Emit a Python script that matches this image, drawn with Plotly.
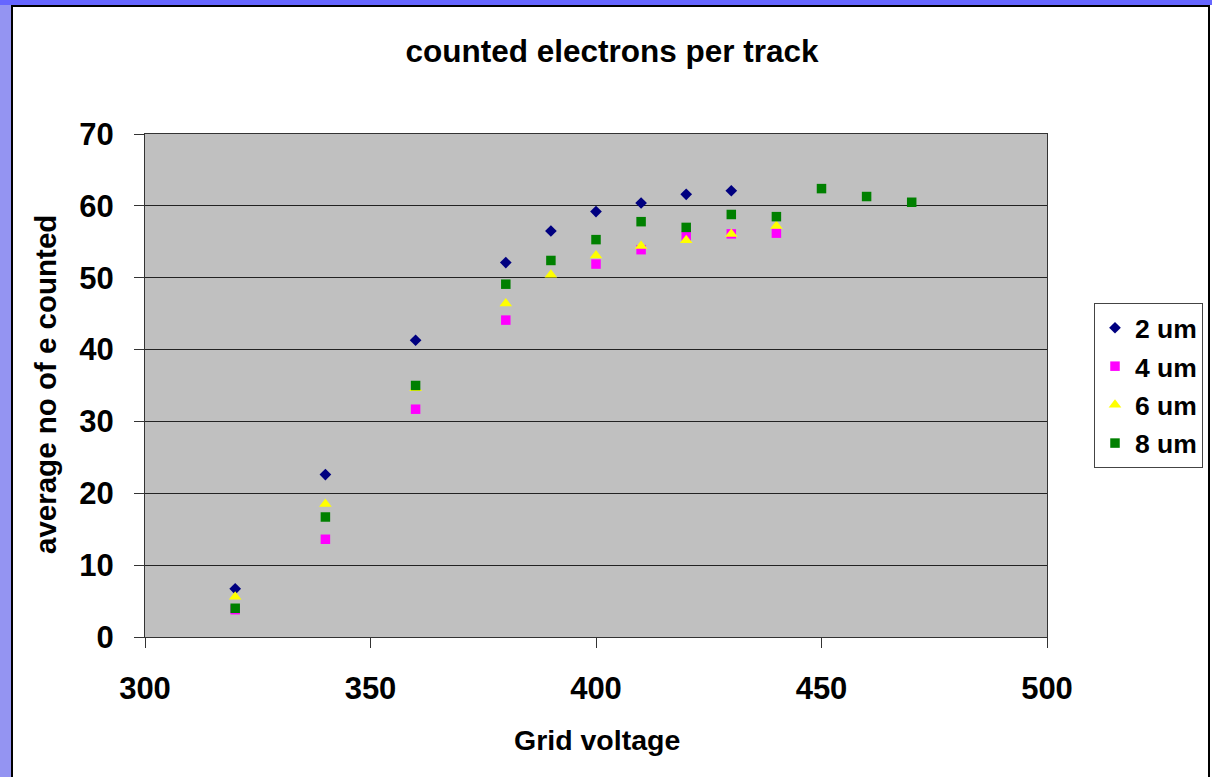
import plotly.graph_objects as go

# ---- data ----
x_2um = [320, 340, 360, 380, 390, 400, 410, 420, 430]
y_2um = [6.7, 22.6, 41.3, 52.1, 56.5, 59.2, 60.4, 61.6, 62.1]

x_4um = [320, 340, 360, 380, 400, 410, 420, 430, 440]
y_4um = [3.8, 13.6, 31.7, 44.1, 51.9, 53.9, 55.8, 56.1, 56.2]

x_6um = [320, 340, 360, 380, 390, 400, 410, 420, 430, 440]
y_6um = [5.6, 18.5, 34.6, 46.4, 50.4, 53.1, 54.4, 55.2, 56.1, 57.2]

x_8um = [320, 340, 360, 380, 390, 400, 410, 420, 430, 440, 450, 460, 470]
y_8um = [4.0, 16.7, 35.0, 49.1, 52.4, 55.3, 57.8, 57.0, 58.8, 58.5, 62.4, 61.3, 60.5]

series_names = ["2 um", "4 um", "6 um", "8 um"]
x_ticks = [300, 350, 400, 450, 500]
y_ticks = [0, 10, 20, 30, 40, 50, 60, 70]

title_text = "counted electrons per track"
x_title = "Grid voltage"
y_title = "average no of e counted"

FONT = "Liberation Sans, Arial, Helvetica, sans-serif"

W, H = 1212, 777
L, R, T, B = 145, 165, 134, 140
PW, PH = W - L - R, H - T - B


def px(xp):
    return (xp - L) / PW


def py(yp):
    return (H - B - yp) / PH


fig = go.Figure()

styles = [
    dict(symbol="diamond", color="#000080", size=9),
    dict(symbol="square", color="#ff00ff", size=9.5),
    dict(symbol="triangle-up", color="#ffff00", size=11),
    dict(symbol="square", color="#008000", size=9.5),
]
data = [(x_2um, y_2um), (x_4um, y_4um), (x_6um, y_6um), (x_8um, y_8um)]

for name, (xs, ys), st in zip(series_names, data, styles):
    fig.add_trace(go.Scatter(
        x=xs, y=ys, mode="markers", name=name, legendgroup=name,
        marker=dict(symbol=st["symbol"], color=st["color"], size=st["size"],
                    line=dict(width=0)),
    ))

shapes = [
    # top blue bar
    dict(type="rect", xref="paper", yref="paper",
         x0=px(0), x1=px(W), y0=py(5), y1=py(0),
         fillcolor="#6666ff", line=dict(width=0), layer="below"),
    # left patterned strip
    dict(type="rect", xref="paper", yref="paper",
         x0=px(0), x1=px(11), y0=py(H), y1=py(5),
         fillcolor="#9494f2", line=dict(width=0), layer="below"),
    # frame lines
    dict(type="line", xref="paper", yref="paper",
         x0=px(12), x1=px(12), y0=py(H), y1=py(5),
         line=dict(color="#000000", width=2)),
    dict(type="line", xref="paper", yref="paper",
         x0=px(11), x1=px(1210), y0=py(6), y1=py(6),
         line=dict(color="#000000", width=2)),
    dict(type="line", xref="paper", yref="paper",
         x0=px(1209), x1=px(1209), y0=py(H), y1=py(5),
         line=dict(color="#000000", width=2)),
]

annotations = [
    dict(text=x_title, xref="paper", yref="paper", x=px(597), y=py(740),
         xanchor="center", yanchor="middle", showarrow=False,
         font=dict(family=FONT, size=28.5, color="black", weight="bold")),
    dict(text=y_title, xref="paper", yref="paper", x=px(45), y=py(385),
         xanchor="center", yanchor="middle", showarrow=False, textangle=-90,
         font=dict(family=FONT, size=29.5, color="black", weight="bold")),
]

fig.update_layout(
    width=W, height=H,
    margin=dict(l=L, r=R, t=T, b=B, pad=0, autoexpand=False),
    paper_bgcolor="white",
    plot_bgcolor="#c0c0c0",
    title=dict(text=title_text, x=612 / W, xref="container", xanchor="center",
               y=1 - 51 / H, yref="container", yanchor="middle",
               font=dict(family=FONT, size=31.5, color="black", weight="bold")),
    xaxis=dict(range=[300, 500], tickvals=x_ticks, showgrid=False,
               zeroline=False, showline=True, linecolor="#333333", linewidth=1,
               mirror=True, ticks="outside", ticklen=10, tickcolor="#333333",
               ticklabelstandoff=14, automargin=False,
               tickfont=dict(family=FONT, size=31, color="black", weight="bold")),
    yaxis=dict(range=[0, 70], tickvals=y_ticks, showgrid=True,
               gridcolor="#222222", gridwidth=1,
               zeroline=False, showline=True, linecolor="#333333", linewidth=1,
               mirror=True, ticks="outside", ticklen=10, tickcolor="#333333",
               ticklabelstandoff=14, automargin=False,
               tickfont=dict(family=FONT, size=31, color="black", weight="bold")),
    legend=dict(x=px(1094), y=py(303), xanchor="left", yanchor="top",
                bgcolor="white", bordercolor="#444444", borderwidth=1,
                tracegroupgap=1, itemwidth=30,
                font=dict(family=FONT, size=26.5, color="black", weight="bold")),
    shapes=shapes,
    annotations=annotations,
    showlegend=True,
)

fig.write_html("out.html")
